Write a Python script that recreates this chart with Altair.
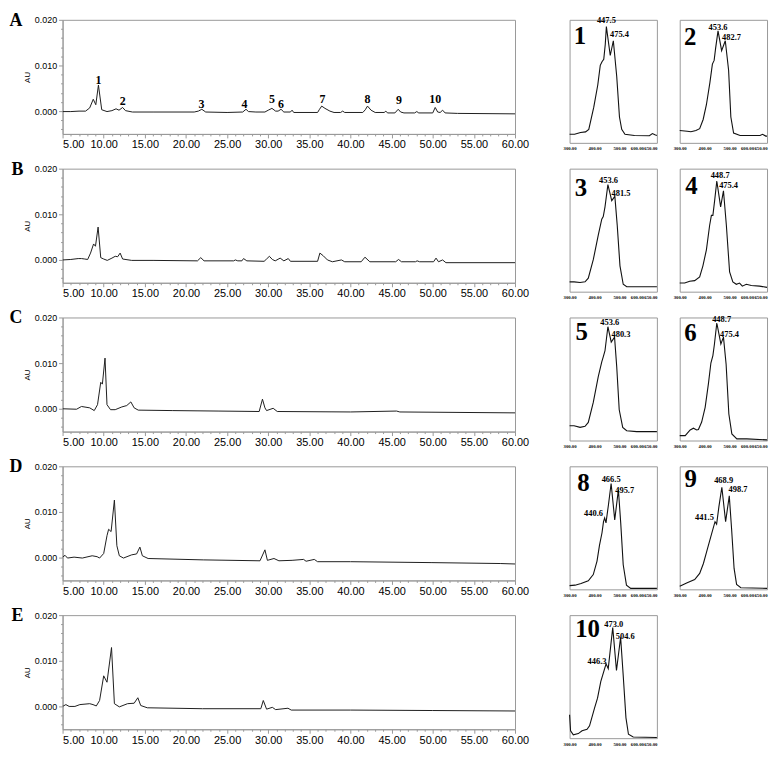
import altair as alt
import pandas as pd

# ---------------- chromatogram traces (time [min], absorbance [AU]) ----------------
A_t = [5, 6, 7, 7.8, 8.3, 8.73, 9.04, 9.36, 9.76, 10.4, 11.0, 11.5, 11.86, 12.3, 12.65, 13.5, 16, 21.0,
       21.5, 21.93, 22.4, 25, 26.9, 27.3, 27.6, 28.5, 29.6, 30.0, 30.45, 30.9, 31.2, 31.56, 31.9, 32.7,
       32.9, 33.1, 36.0, 36.2, 36.5, 36.9, 37.5, 38.0, 38.8, 39.05, 39.3, 41.5, 41.8, 42.07, 42.5, 43.0,
       44.1, 44.3, 44.5, 45.4, 45.8, 46.1, 46.5, 47.8, 48.06, 48.3, 50.0, 50.3, 50.6, 50.9, 51.2, 51.5,
       53, 60]
A_au = [-0.0001, -0.0001, 0.0000, 0.0000, 0.0007, 0.0026, 0.0014, 0.0057, 0.0003, -0.0001, 0.0001,
        0.0005, 0.0002, 0.0008, 0.0001, -0.0002, -0.0002, -0.0002, 0.0000, 0.0004, -0.0002, -0.0003,
        -0.0002, 0.0004, -0.0001, -0.0002, -0.0002, 0.0002, 0.0006, 0.0000, 0.0000, 0.0004, -0.0002,
        -0.0002, 0.0002, -0.0003, -0.0003, 0.0003, 0.0011, 0.0006, 0.0000, -0.0003, -0.0003, 0.0000,
        -0.0003, -0.0003, 0.0003, 0.0011, 0.0002, -0.0003, -0.0003, 0.0000, -0.0004, -0.0004, 0.0004,
        -0.0002, -0.0004, -0.0004, -0.0001, -0.0004, -0.0004, 0.0008, -0.0002, -0.0003, 0.0002, -0.0004,
        -0.0005, -0.0006]

B_t = [5, 6.0, 6.9, 7.3, 7.7, 8.05, 8.4, 8.77, 9.0, 9.32, 9.64, 10.0, 10.43, 11.0, 11.4, 11.7, 12.0,
       12.3, 13.4, 16, 21.4, 21.8, 22.2, 25.8, 26.0, 26.3, 26.8, 27.0, 27.4, 29.5, 29.8, 30.14, 30.5,
       30.85, 31.45, 31.9, 32.44, 32.7, 36.0, 36.28, 36.7, 37.2, 37.8, 38.9, 39.3, 41.3, 41.76, 42.35,
       45.5, 45.84, 46.2, 47.9, 48.1, 48.4, 50.1, 50.4, 50.7, 51.2, 51.6, 60]
B_au = [0.0000, 0.0001, 0.0003, 0.0003, 0.0002, 0.0001, 0.0015, 0.0035, 0.0030, 0.0072, 0.0005, 0.0002,
        -0.0001, 0.0004, 0.0008, 0.0007, 0.0015, 0.0002, -0.0001, -0.0001, -0.0002, 0.0005, -0.0002,
        -0.0002, 0.0000, -0.0002, -0.0002, 0.0003, -0.0002, -0.0003, 0.0002, 0.0008, 0.0001, -0.0002,
        0.0004, -0.0002, 0.0003, -0.0003, -0.0003, 0.0015, 0.0009, 0.0000, -0.0004, 0.0000, -0.0004,
        -0.0004, 0.0006, -0.0004, -0.0004, 0.0001, -0.0004, -0.0004, -0.0002, -0.0004, -0.0004, 0.0004,
        -0.0004, 0.0000, -0.0006, -0.0006]

C_t = [5, 6.7, 7.3, 8.3, 8.85, 9.25, 9.64, 9.84, 10.16, 10.4, 10.83, 11.4, 12.2, 12.8, 13.3, 13.7, 14.2,
       18.4, 23.9, 28.9, 29.3, 29.6, 29.8, 30.6, 31.1, 40, 45.6, 46.0, 60]
C_au = [0.0000, -0.0001, 0.0005, 0.0002, -0.0004, 0.0009, 0.0058, 0.0054, 0.0111, 0.0009, -0.0002,
        -0.0002, 0.0004, 0.0007, 0.0015, 0.0002, -0.0003, -0.0004, -0.0005, -0.0006, 0.0021, 0.0002,
        -0.0004, 0.0001, -0.0006, -0.0007, -0.0005, -0.0007, -0.0009]

D_t = [5.0, 5.3, 5.6, 6.4, 7.4, 8.6, 9.2, 9.5, 10.0, 10.4, 10.6, 10.9, 11.3, 11.6, 11.9, 12.4, 13.4,
       14.0, 14.4, 14.7, 15.4, 22.1, 29.0, 29.6, 29.9, 30.7, 31.3, 32.9, 34.3, 34.6, 35.6, 36.0, 40.0,
       49.9, 58.2, 60]
D_au = [0.0001, 0.0005, -0.0001, 0.0001, -0.0001, 0.0004, 0.0002, -0.0001, 0.0009, 0.0048, 0.0062,
        0.0057, 0.0126, 0.0026, 0.0004, -0.0001, 0.0006, 0.0008, 0.0023, 0.0004, -0.0002, -0.0005,
        -0.0007, 0.0017, -0.0006, -0.0002, -0.0007, -0.0006, -0.0004, -0.0008, -0.0004, -0.0009,
        -0.0009, -0.0011, -0.0013, -0.0014]

E_t = [5.0, 5.1, 5.4, 5.8, 6.5, 7.1, 8.3, 8.7, 9.1, 9.5, 10.0, 10.4, 10.95, 11.3, 11.9, 12.9, 13.7,
       14.15, 14.5, 15.3, 22, 29.1, 29.4, 29.8, 30.5, 30.9, 32.4, 32.8, 40, 50, 60]
E_au = [0.0001, 0.0001, 0.0004, 0.0000, 0.0000, 0.0004, 0.0006, 0.0004, 0.0001, 0.0013, 0.0067, 0.0053,
        0.0129, 0.0006, -0.0001, 0.0006, 0.0007, 0.0019, 0.0002, -0.0003, -0.0005, -0.0005, 0.0013,
        -0.0006, -0.0002, -0.0007, -0.0004, -0.0008, -0.0008, -0.0009, -0.0010]

# peak numbers above trace A
PEAK_t = [9.36, 12.3, 21.9, 27.1, 30.45, 31.56, 36.6, 42.07, 45.9, 50.3]
PEAK_au = [0.0069, 0.0023, 0.0016, 0.0015, 0.0027, 0.0015, 0.0026, 0.0026, 0.0024, 0.0026]
PEAK_lab = ["1", "2", "3", "4", "5", "6", "7", "8", "9", "10"]

# ---------------- UV-Vis spectra (wavelength [nm], relative absorbance) ----------------
S1_nm = [300, 320, 344, 364, 377, 397, 413, 423, 430, 437, 443, 447.5, 463, 475.4, 489, 500, 509, 522,
         560, 620, 632, 642, 650]
S1_v = [0.07, 0.07, 0.084, 0.089, 0.11, 0.29, 0.47, 0.63, 0.66, 0.68, 0.80, 0.945, 0.71, 0.83, 0.54,
        0.21, 0.11, 0.07, 0.06, 0.058, 0.075, 0.065, 0.06]
S2_nm = [300, 330, 345, 365, 380, 394, 407, 421, 431, 438, 444, 453.6, 468, 482.7, 496, 505, 516, 542,
         600, 622, 632, 645, 650]
S2_v = [0.10, 0.095, 0.09, 0.10, 0.115, 0.19, 0.31, 0.49, 0.64, 0.67, 0.77, 0.91, 0.75, 0.83, 0.59,
        0.21, 0.08, 0.06, 0.06, 0.06, 0.07, 0.055, 0.055]
S3_nm = [300, 318, 342, 362, 375, 395, 415, 429, 435, 442, 453.6, 469, 481.5, 491, 502, 515, 529, 600, 650]
S3_v = [0.08, 0.08, 0.075, 0.08, 0.11, 0.26, 0.46, 0.59, 0.61, 0.69, 0.87, 0.74, 0.775, 0.54, 0.21,
        0.06, 0.04, 0.04, 0.04]
S4_nm = [300, 320, 340, 360, 380, 393, 407, 420, 427, 433, 440, 448.7, 464, 475.4, 487, 500, 513, 527,
         540, 551, 567, 587, 620, 650]
S4_v = [0.07, 0.07, 0.085, 0.09, 0.12, 0.21, 0.34, 0.54, 0.62, 0.62, 0.74, 0.90, 0.69, 0.82, 0.54, 0.16,
        0.08, 0.06, 0.07, 0.045, 0.06, 0.05, 0.045, 0.035]
S5_nm = [300, 318, 342, 362, 375, 395, 415, 429, 435, 442, 453.6, 467, 480.3, 489, 499, 513, 529, 569, 650]
S5_v = [0.12, 0.12, 0.107, 0.115, 0.147, 0.31, 0.52, 0.64, 0.68, 0.73, 0.925, 0.80, 0.84, 0.60, 0.25,
        0.107, 0.08, 0.072, 0.072]
S6_nm = [300, 322, 342, 355, 368, 375, 388, 402, 415, 425, 433, 439, 448.7, 465, 475.4, 486, 497, 509,
         529, 569, 650]
S6_v = [0.04, 0.04, 0.086, 0.10, 0.086, 0.09, 0.15, 0.27, 0.46, 0.63, 0.69, 0.78, 0.955, 0.785, 0.84,
        0.62, 0.215, 0.054, 0.013, 0.013, 0.005]
S8_nm = [300, 322, 346, 375, 395, 410, 420, 430, 436, 440.6, 446, 456, 466.5, 481, 495.7, 505, 515, 528,
         545, 650]
S8_v = [0.03, 0.034, 0.047, 0.07, 0.12, 0.23, 0.36, 0.46, 0.55, 0.58, 0.54, 0.69, 0.86, 0.565, 0.81,
        0.54, 0.20, 0.034, 0.008, 0.008]
S9_nm = [300, 330, 360, 380, 395, 410, 425, 441.5, 448, 457, 468.9, 484, 498.7, 508, 518, 528, 545, 650]
S9_v = [0.026, 0.053, 0.08, 0.13, 0.21, 0.32, 0.43, 0.55, 0.53, 0.67, 0.83, 0.55, 0.76, 0.49, 0.17,
        0.04, 0.013, 0.008]
S10_nm = [300, 304, 315, 335, 350, 370, 380, 400, 412, 425, 446.3, 455, 473.0, 488, 504.6, 515, 526,
          536, 555, 650]
S10_v = [0.19, 0.06, 0.027, 0.037, 0.06, 0.072, 0.10, 0.245, 0.325, 0.46, 0.605, 0.565, 0.90, 0.55,
         0.82, 0.51, 0.165, 0.032, 0.01, 0.005]

# peak wavelength labels: text, x (nm), y (rel.), alignment
L1 = (["447.5", "475.4"], [447.5, 462], [1.0, 0.885], ["center", "left"])
L2 = (["453.6", "482.7"], [453.6, 470], [0.94, 0.86], ["center", "left"])
L3 = (["453.6", "481.5"], [456, 468], [0.91, 0.80], ["center", "left"])
L4 = (["448.7", "475.4"], [462, 458], [0.95, 0.87], ["center", "left"])
L5 = (["453.6", "480.3"], [461, 468], [0.96, 0.865], ["center", "left"])
L6 = (["448.7", "475.4"], [468, 462], [0.985, 0.865], ["center", "left"])
L8 = (["440.6", "466.5", "495.7"], [434, 466.5, 483], [0.62, 0.90, 0.81], ["right", "center", "left"])
L9 = (["441.5", "468.9", "498.7"], [437, 476, 496], [0.59, 0.89, 0.815], ["right", "center", "left"])
L10 = (["446.3", "473.0", "504.6"], [448, 477, 485], [0.63, 0.93, 0.83], ["right", "center", "left"])

# big compound numbers inside each spectrum panel
BIG_lab = ["1", "2", "3", "4", "5", "6", "8", "9", "10"]
BIG_nm = [342, 342, 346, 347, 349, 343, 356, 344, 372]
BIG_v = [0.87, 0.86, 0.84, 0.86, 0.88, 0.87, 0.86, 0.90, 0.885]

GRAY = "#999999"
SANS = "Liberation Sans"
SERIF = "Liberation Serif"

# ---------------- axes ----------------
x_vals = list(range(5, 61))
chrom_xaxis = alt.Axis(
    values=x_vals,
    labelExpr="datum.value % 5 === 0 ? format(datum.value, '.2f') : ''",
    tickSize={"condition": {"test": "datum.value % 5 === 0", "value": 4}, "value": 2},
    labelAlign={"condition": {"test": "datum.value === 5", "value": "left"}, "value": "center"},
    labelOverlap=False, labelFlush=False, grid=False, title=None,
    domainColor=GRAY, tickColor=GRAY, labelColor="black",
    labelFont=SANS, labelFontSize=11, labelPadding=1,
)
y_vals = [round(-0.004 + 0.002 * i, 3) for i in range(13)]
major_test = "abs(datum.value * 100 - round(datum.value * 100)) < 0.01"
chrom_yaxis = alt.Axis(
    values=y_vals,
    labelExpr=f"{major_test} ? format(datum.value, '.3f') : ''",
    tickSize={"condition": {"test": major_test, "value": 4}, "value": 2},
    labelOverlap=False, grid=False, title="AU",
    titleFont=SANS, titleFontSize=8, titleFontWeight="normal", titlePadding=3, titleColor="black",
    domainColor=GRAY, tickColor=GRAY, labelColor="black",
    labelFont=SANS, labelFontSize=9, labelPadding=2,
)

spec_xaxis = alt.Axis(
    values=[300, 400, 500, 600, 650], format=".2f",
    labelAlign={"condition": {"test": "datum.value >= 600", "value": "right"}, "value": "center"},
    labelOffset={"condition": {"test": "datum.value === 600", "value": -1}, "value": 0},
    labelOverlap=False, labelFlush=False, ticks=False, domain=False, grid=False, title=None,
    labelFont=SERIF, labelFontWeight="bold", labelFontSize=4.8, labelPadding=3, labelColor="black",
)


def chrom(letter, times, vals, peaks=False):
    df = pd.DataFrame({"t": times, "au": vals})
    X = alt.X("t:Q", scale=alt.Scale(domain=[5, 60], nice=False, zero=False), axis=chrom_xaxis)
    Y = alt.Y("au:Q", scale=alt.Scale(domain=[-0.005, 0.020], nice=False, zero=False), axis=chrom_yaxis)
    layers = [alt.Chart(df).mark_line(color="#1e1e1e", strokeWidth=1, clip=True).encode(x=X, y=Y)]
    if peaks:
        pk = pd.DataFrame({"t": PEAK_t, "au": PEAK_au, "lab": PEAK_lab})
        layers.append(
            alt.Chart(pk).mark_text(font=SERIF, fontWeight="bold", fontSize=12, color="black",
                                    baseline="middle", align="center")
            .encode(x=X, y=Y, text="lab:N")
        )
    return alt.layer(*layers).properties(
        width=456, height=115,
        title=alt.TitleParams(letter, orient="left", anchor="end", angle=0, align="right",
                              baseline="middle", frame="group", offset=2, dx=14, dy=1,
                              font=SERIF, fontWeight="bold", fontSize=18, color="black"),
    )


def spectrum(idx, nm, v, labels):
    df = pd.DataFrame({"nm": nm, "v": v})
    X = alt.X("nm:Q", scale=alt.Scale(domain=[300, 650], nice=False, zero=False), axis=spec_xaxis)
    Y = alt.Y("v:Q", scale=alt.Scale(domain=[0, 1], nice=False, zero=False), axis=None)
    layers = [alt.Chart(df).mark_line(color="#111111", strokeWidth=1.1).encode(x=X, y=Y)]
    txt, lx, ly, la = labels
    ldf = pd.DataFrame({"nm": lx, "v": ly, "lab": txt, "al": la})
    for al in ["left", "center", "right"]:
        if al in la:
            layers.append(
                alt.Chart(ldf).transform_filter(alt.datum.al == al)
                .mark_text(align=al, baseline="middle", font=SERIF, fontWeight="bold", fontSize=8.5,
                           color="black")
                .encode(x=X, y=Y, text="lab:N")
            )
    bdf = pd.DataFrame({"nm": [BIG_nm[idx]], "v": [BIG_v[idx]], "lab": [BIG_lab[idx]]})
    layers.append(
        alt.Chart(bdf).mark_text(align="center", baseline="middle", font=SERIF, fontWeight="bold",
                                 fontSize=25, color="black")
        .encode(x=X, y=Y, text="lab:N")
    )
    return alt.layer(*layers).properties(width=88, height=124)


def spacer():
    return (alt.Chart(pd.DataFrame({"z": [0]})).mark_point(opacity=0)
            .properties(width=9, height=10, view=alt.ViewBackground(strokeOpacity=0)))


sp = [
    spectrum(0, S1_nm, S1_v, L1), spectrum(1, S2_nm, S2_v, L2),
    spectrum(2, S3_nm, S3_v, L3), spectrum(3, S4_nm, S4_v, L4),
    spectrum(4, S5_nm, S5_v, L5), spectrum(5, S6_nm, S6_v, L6),
    spectrum(6, S8_nm, S8_v, L8), spectrum(7, S9_nm, S9_v, L9),
    spectrum(8, S10_nm, S10_v, L10),
]

cells = [
    chrom("A", A_t, A_au, peaks=True), spacer(), sp[0], sp[1],
    chrom("B", B_t, B_au), spacer(), sp[2], sp[3],
    chrom("C", C_t, C_au), spacer(), sp[4], sp[5],
    chrom("D", D_t, D_au), spacer(), sp[6], sp[7],
    chrom("E", E_t, E_au), spacer(), sp[8],
]

chart = (
    alt.concat(*cells, columns=4, spacing={"row": 26, "column": 23}, bounds="flush", align="each")
    .properties(padding=0, background="white")
    .configure_view(stroke=GRAY, strokeWidth=1)
)

chart.save("out.html", embed_options={"renderer": "svg", "actions": False})
